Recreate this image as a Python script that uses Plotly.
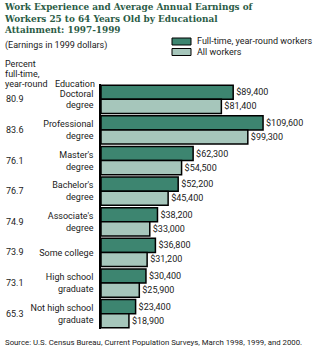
import plotly.graph_objects as go

# Educational attainment categories (top to bottom)
education = [
    "Doctoral<br>degree",
    "Professional<br>degree",
    "Master's<br>degree",
    "Bachelor's<br>degree",
    "Associate's<br>degree",
    "Some college",
    "High school<br>graduate",
    "Not high school<br>graduate",
]
# Average annual earnings, 1999 dollars
full_time_earnings = [89400, 109600, 62300, 52200, 38200, 36800, 30400, 23400]
all_workers_earnings = [81400, 99300, 54500, 45400, 33000, 31200, 25900, 18900]
# Percent of workers who were full-time, year-round
pct_full_time = ["80.9", "83.6", "76.1", "76.7", "74.9", "73.9", "73.1", "65.3"]

title_lines = [
    "Work Experience and Average Annual Earnings of",
    "Workers 25 to 64 Years Old by Educational",
    "Attainment: 1997-1999",
]
legend_labels = ["Full-time, year-round workers", "All workers"]

DARK = "#3d8570"
LIGHT = "#a6c6bb"
TITLE_GREEN = "#2b5c46"
TXT = "#1a1a1a"
BODY_FONT = "Roboto"

W, H = 333, 350
ML, MR, MT, MB = 101, 25, 84, 21
PW, PH = W - ML - MR, H - MT - MB


def px(x):
    """Horizontal pixel position -> paper coordinate."""
    return (x - ML) / PW


def py(y):
    """Vertical pixel position (from top) -> paper coordinate."""
    return 1 - (y - MT) / PH


fig = go.Figure()
for vals, name, col in [(full_time_earnings, legend_labels[0], DARK),
                        (all_workers_earnings, legend_labels[1], LIGHT)]:
    fig.add_trace(go.Bar(
        y=education, x=vals, orientation="h", name=name,
        marker=dict(color=col, line=dict(color="black", width=1.5)),
        text=[f"${v:,}" for v in vals], textposition="outside",
        textfont=dict(family=BODY_FONT, size=9, color=TXT), cliponaxis=False,
    ))


def note(text, x, y, size=9, xanchor="left", family=BODY_FONT, color=TXT, yref="paper"):
    return dict(text=text, xref="paper", yref=yref, x=x, y=y, xanchor=xanchor,
                yanchor="middle", showarrow=False, align="left",
                font=dict(family=family, size=size, color=color))


annotations = []
# Title, one line per annotation for tight leading
for i, line in enumerate(title_lines):
    annotations.append(note(f"<b>{line}</b>", px(2), py(7 + 11.5 * i), size=8.9,
                            family="DejaVu Serif", color=TITLE_GREEN))
annotations.append(note("(Earnings in 1999 dollars)", px(3), py(46)))
for i, line in enumerate(["Percent", "full-time,", "year-round"]):
    annotations.append(note(line, px(3), py(64 + 10 * i)))
annotations.append(note("Education", px(97), py(84), xanchor="right"))
annotations.append(note(
    "Source: U.S. Census Bureau, Current Population Surveys, March 1998, 1999, and 2000.",
    px(3), py(342), size=7.8))

# Percent full-time column
for cat, pct in zip(education, pct_full_time):
    annotations.append(note(pct, px(4), cat, size=9, yref="y"))

# Legend swatches and labels
shapes = []
for i, (label, col) in enumerate(zip(legend_labels, [DARK, LIGHT])):
    top = 38 + 10.5 * i
    shapes.append(dict(type="rect", xref="paper", yref="paper",
                       x0=px(172), x1=px(191), y0=py(top + 7), y1=py(top),
                       fillcolor=col, line=dict(color="black", width=1)))
    annotations.append(note(label, px(195), py(top + 3.5)))

fig.update_layout(
    width=W, height=H,
    margin=dict(l=ML, r=MR, t=MT, b=MB),
    paper_bgcolor="white", plot_bgcolor="white",
    barmode="group", bargap=0.08, bargroupgap=0,
    showlegend=False,
    annotations=annotations, shapes=shapes,
    xaxis=dict(range=[0, 140000], visible=False, fixedrange=True),
    yaxis=dict(autorange="reversed", showline=True, linecolor="black", linewidth=1.5,
               ticks="", ticklabelstandoff=4, showgrid=False, automargin=False,
               tickfont=dict(family=BODY_FONT, size=9, color=TXT)),
)

fig.write_html("out.html")
